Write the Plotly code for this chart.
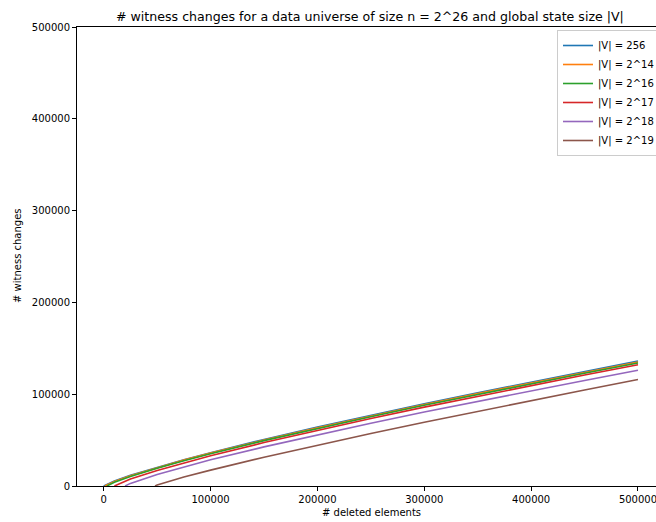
import plotly.graph_objects as go

# ---- data ----
labels = ["|V| = 256", "|V| = 2^14", "|V| = 2^16", "|V| = 2^17", "|V| = 2^18", "|V| = 2^19"]
colors = ["#1f77b4", "#ff7f0e", "#2ca02c", "#d62728", "#9467bd", "#8c564b"]

x_v256 = [0, 10000, 25000, 50000, 75000, 100000, 150000, 200000, 250000, 300000, 350000, 400000, 450000, 500000]
y_v256 = [0, 5500, 11650, 20600, 28700, 36300, 50700, 64200, 77000, 89500, 101600, 113300, 124700, 136000]

x_v14 = [1000, 10000, 25000, 50000, 75000, 100000, 150000, 200000, 250000, 300000, 350000, 400000, 450000, 500000]
y_v14 = [0, 5020, 11200, 20100, 28200, 35800, 50100, 63500, 76300, 88800, 100800, 112400, 123800, 135000]

x_v16 = [3000, 10000, 25000, 50000, 75000, 100000, 150000, 200000, 250000, 300000, 350000, 400000, 450000, 500000]
y_v16 = [0, 4060, 10400, 19400, 27500, 35100, 49400, 62700, 75500, 87900, 99800, 111500, 122800, 134000]

x_v17 = [10000, 25000, 50000, 75000, 100000, 150000, 200000, 250000, 300000, 350000, 400000, 450000, 500000]
y_v17 = [0, 7570, 16900, 25200, 32900, 47300, 60700, 73500, 85900, 97800, 109500, 120900, 132000]

x_v18 = [20000, 25000, 50000, 75000, 100000, 150000, 200000, 250000, 300000, 350000, 400000, 450000, 500000]
y_v18 = [0, 2850, 12600, 20900, 28500, 42600, 55800, 68400, 80600, 92300, 103800, 115000, 126000]

x_v19 = [48000, 50000, 75000, 100000, 150000, 200000, 250000, 300000, 350000, 400000, 450000, 500000]
y_v19 = [0, 990, 9700, 17300, 31300, 44500, 57100, 69400, 81300, 93100, 104600, 116000]

xs = [x_v256, x_v14, x_v16, x_v17, x_v18, x_v19]
ys = [y_v256, y_v14, y_v16, y_v17, y_v18, y_v19]

x_ticks = [0, 100000, 200000, 300000, 400000, 500000]
y_ticks = [0, 100000, 200000, 300000, 400000, 500000]

title_text = "# witness changes for a data universe of size n = 2^26 and global state size |V|"
x_title = "# deleted elements"
y_title = "# witness changes"

# ---- figure ----
FONT = "DejaVu Sans"
W, H = 656, 522
ML, MR, MT = 77, 0, 27
MB = H - 486
PW = W - ML - MR
PH = H - MT - MB

fig = go.Figure()
for xv, yv, name, c in zip(xs, ys, labels, colors):
    fig.add_trace(go.Scatter(x=xv, y=yv, mode="lines", name=name,
                             line=dict(color=c, width=1.6)))

def px_x(p):  # p = pixel in screenshot coordinates
    return (p - ML) / PW

def px_y(p):
    return 1 - (p - MT) / PH

axis_common = dict(
    showgrid=False, zeroline=False, showline=True, linecolor="#000000", linewidth=0.9,
    ticks="outside", ticklen=4, tickwidth=0.9, tickcolor="#000000",
    tickfont=dict(family=FONT, size=10, color="#000000"),
    tickformat="d", automargin=False, ticklabeloverflow="allow",
)

fig.update_layout(
    width=W, height=H, autosize=False,
    margin=dict(l=ML, r=MR, t=MT, b=MB, autoexpand=False),
    paper_bgcolor="white", plot_bgcolor="white",
    font=dict(family=FONT, size=10, color="#000000"),
    xaxis=dict(range=[-25000, 516850], tickvals=x_ticks, mirror=True, **axis_common),
    yaxis=dict(range=[0, 500000], tickvals=y_ticks, mirror=False, **axis_common),
    showlegend=True,
    legend=dict(x=px_x(557), y=px_y(30), xanchor="left", yanchor="top",
                bgcolor="rgba(255,255,255,0.8)", bordercolor="#cccccc", borderwidth=1,
                font=dict(family=FONT, size=10, color="#000000"),
                itemwidth=30, tracegroupgap=0),
    annotations=[
        dict(text=title_text, x=px_x(370), y=px_y(16), xref="paper", yref="paper",
             showarrow=False, xanchor="center", yanchor="middle",
             font=dict(family=FONT, size=12.6, color="#000000")),
        dict(text=x_title, x=px_x(371), y=px_y(512), xref="paper", yref="paper",
             showarrow=False, xanchor="center", yanchor="middle",
             font=dict(family=FONT, size=10, color="#000000")),
        dict(text=y_title, x=px_x(18), y=px_y(256), xref="paper", yref="paper",
             showarrow=False, xanchor="center", yanchor="middle", textangle=-90,
             font=dict(family=FONT, size=10, color="#000000")),
    ],
)

post = ("document.body.style.margin='0px';"
        "document.body.style.overflow='hidden';"
        "var gd=document.getElementById('{plot_id}');"
        "Plotly.relayout(gd,{width:656,height:522});")

fig.write_html("out.html", post_script=post,
               config={"responsive": False, "displayModeBar": False})
